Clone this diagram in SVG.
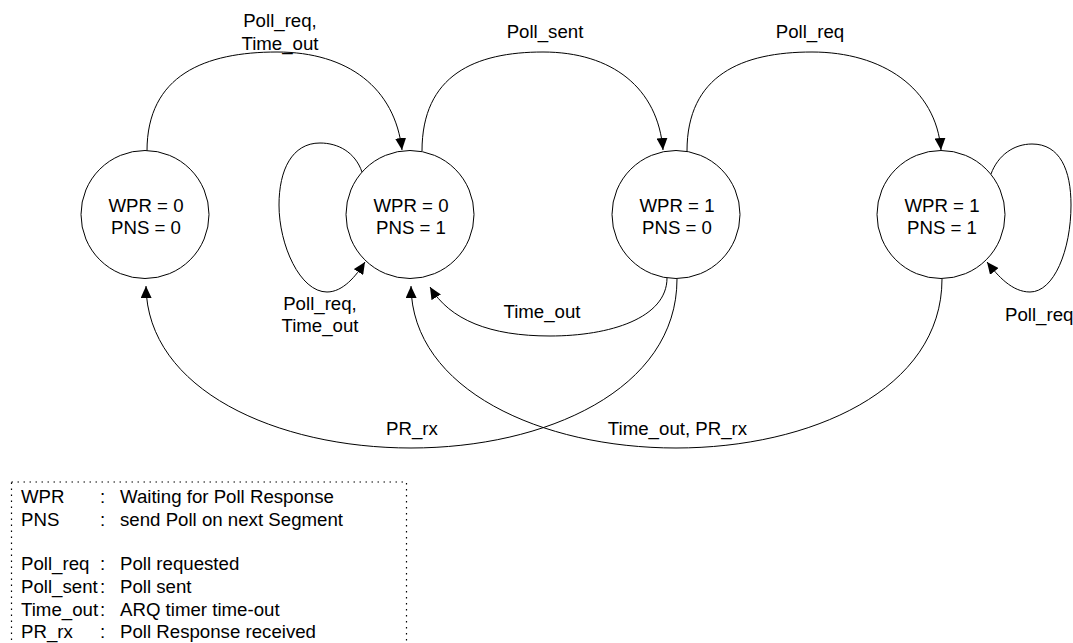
<svg xmlns="http://www.w3.org/2000/svg" width="1073" height="643" viewBox="0 0 1073 643">
  <style>
    text { font-family: "Liberation Sans", Arial, sans-serif; font-size: 18.67px; fill: #000; }
    .mid { text-anchor: middle; }
    .state { fill: #fff; stroke: #000; stroke-width: 1; }
    .edge { fill: none; stroke: #000; stroke-width: 1; marker-end: url(#arrow); }
    .legend-box { fill: none; stroke: #000; stroke-width: 1.2; stroke-dasharray: 1.5 4.5; }
  </style>
  <defs>
    <marker id="arrow" viewBox="0 0 12 11" refX="12" refY="5.5" markerWidth="12" markerHeight="11" orient="auto" markerUnits="userSpaceOnUse">
      <path d="M0,0 L12,5.5 L0,11 z" fill="#000"/>
    </marker>
  </defs>

  <rect width="1073" height="643" fill="#fff"/>

  <!-- transitions -->
  <g id="connectors">
    <!-- upper arcs -->
    <path class="edge" d="M147,151 C147,75 205,52 277,52 C348,52 395,88 402,150"/>
    <path class="edge" d="M422,151 C422,75 475,52 543,52 C612,52 658,88 663,150"/>
    <path class="edge" d="M687,151 C687,75 742,52 812,52 C882,52 936,88 941,150"/>
    <!-- self loops -->
    <path class="edge" d="M362,172 C355,152 338,143 320,143 C292,143 279,170 279,205 C279,245 300,292 327,292 C343,292 356,276 365,262"/>
    <path class="edge" d="M991,174 C998,155 1014,144 1032,144 C1060,144 1071,170 1071,205 C1071,250 1054,292 1030,292 C1012,292 998,276 987,262"/>
    <!-- lower arcs -->
    <path class="edge" d="M667,278 C667,318 610,336 550,336 C490,336 450,320 430,287"/>
    <path class="edge" d="M677,279 C677,390 545,448 411,448 C277,448 147,390 146,286"/>
    <path class="edge" d="M942,279 C942,390 810,448 676,448 C542,448 412,390 411,286"/>
  </g>

  <!-- transition labels -->
  <g id="edge-labels">
    <text class="mid" x="280" y="27">Poll_req,</text>
    <text class="mid" x="280" y="49.5">Time_out</text>
    <text class="mid" x="545" y="37.5">Poll_sent</text>
    <text class="mid" x="810" y="37.5">Poll_req</text>
    <text class="mid" x="320" y="310">Poll_req,</text>
    <text class="mid" x="320" y="332">Time_out</text>
    <text x="1005" y="320.5">Poll_req</text>
    <text class="mid" x="542" y="318">Time_out</text>
    <text class="mid" x="412" y="435">PR_rx</text>
    <text class="mid" x="677.5" y="435">Time_out, PR_rx</text>
  </g>

  <!-- states -->
  <g id="state-00">
    <circle class="state" cx="145" cy="214.5" r="64"/>
    <text class="mid" x="146" y="211.5">WPR = 0</text>
    <text class="mid" x="146" y="234">PNS = 0</text>
  </g>
  <g id="state-01">
    <circle class="state" cx="410" cy="214.5" r="64"/>
    <text class="mid" x="411" y="211.5">WPR = 0</text>
    <text class="mid" x="411" y="234">PNS = 1</text>
  </g>
  <g id="state-10">
    <circle class="state" cx="676" cy="214.5" r="64"/>
    <text class="mid" x="677" y="211.5">WPR = 1</text>
    <text class="mid" x="677" y="234">PNS = 0</text>
  </g>
  <g id="state-11">
    <circle class="state" cx="941" cy="214.5" r="64"/>
    <text class="mid" x="942" y="211.5">WPR = 1</text>
    <text class="mid" x="942" y="234">PNS = 1</text>
  </g>

  <!-- legend -->
  <g id="legend">
    <rect class="legend-box" x="11.5" y="482" width="395" height="200"/>
    <text x="21" y="503">WPR</text>
    <text x="100" y="503">:</text>
    <text x="120" y="503">Waiting for Poll Response</text>
    <text x="21" y="526">PNS</text>
    <text x="100" y="526">:</text>
    <text x="120" y="526">send Poll on next Segment</text>
    <text x="21" y="570">Poll_req</text>
    <text x="100" y="570">:</text>
    <text x="120" y="570">Poll requested</text>
    <text x="21" y="592.5">Poll_sent</text>
    <text x="100" y="592.5">:</text>
    <text x="120" y="592.5">Poll sent</text>
    <text x="21" y="615.5">Time_out</text>
    <text x="100" y="615.5">:</text>
    <text x="120" y="615.5">ARQ timer time-out</text>
    <text x="21" y="638">PR_rx</text>
    <text x="100" y="638">:</text>
    <text x="120" y="638">Poll Response received</text>
  </g>
</svg>
